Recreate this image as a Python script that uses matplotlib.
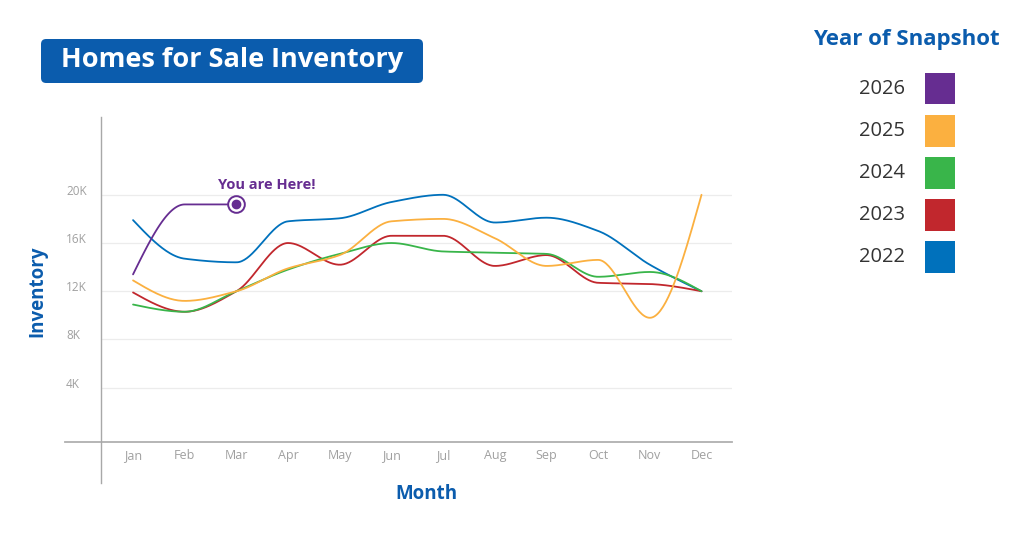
import numpy as np
import matplotlib
matplotlib.use("Agg")
import matplotlib.pyplot as plt
from matplotlib.patches import FancyBboxPatch, Rectangle
from matplotlib.lines import Line2D
from matplotlib import transforms as mtransforms

# ---- data ----
months = ['Jan', 'Feb', 'Mar', 'Apr', 'May', 'Jun',
          'Jul', 'Aug', 'Sep', 'Oct', 'Nov', 'Dec']
inv_2022 = [17900, 14700, 14400, 17800, 18050, 19400, 20000, 17700, 18100, 17000, 14200, 12000]
inv_2023 = [11900, 10300, 12000, 16000, 14200, 16600, 16600, 14100, 15000, 12700, 12600, 12000]
inv_2024 = [10900, 10300, 12000, 13800, 15100, 16000, 15300, 15200, 15100, 13200, 13600, 12000]
inv_2025 = [12900, 11200, 12000, 13900, 15000, 17800, 18000, 16400, 14100, 14600, 9800, 20000]
inv_2026 = [13400, 19200, 19200]
years = ['2026', '2025', '2024', '2023', '2022']
ytick_vals = [4000, 8000, 12000, 16000, 20000]
ytick_labels = ['4K', '8K', '12K', '16K', '20K']

colors = {'2026': '#662d91', '2025': '#fbb040', '2024': '#39b54a',
          '2023': '#c1272d', '2022': '#0071bc'}
series = {'2022': inv_2022, '2023': inv_2023, '2024': inv_2024,
          '2025': inv_2025, '2026': inv_2026}

BLUE = '#0b5cad'
W, H = 1024, 550

plt.rcParams['font.family'] = ['Open Sans', 'DejaVu Sans']


def px(x, y):
    """pixel position (top-left origin) -> figure fraction"""
    return x / W, 1 - y / H


def monotone(y, n=40):
    # monotone cubic hermite curve through equally spaced points
    y = np.asarray(y, float)
    d = np.diff(y)
    m = np.zeros_like(y)
    for i in range(1, len(y) - 1):
        if d[i - 1] * d[i] > 0:
            m[i] = 2.0 / (1.0 / d[i - 1] + 1.0 / d[i])
    m[0] = (3 * d[0] - m[1]) / 2 if len(y) > 2 else d[0]
    m[-1] = (3 * d[-1] - m[-2]) / 2 if len(y) > 2 else d[-1]
    xs, ys = [], []
    t = np.linspace(0, 1, n)
    for i in range(len(y) - 1):
        h00 = 2 * t**3 - 3 * t**2 + 1
        h10 = t**3 - 2 * t**2 + t
        h01 = -2 * t**3 + 3 * t**2
        h11 = t**3 - t**2
        xs.append(i + t)
        ys.append(h00 * y[i] + h10 * m[i] + h01 * y[i + 1] + h11 * m[i + 1])
    return np.concatenate(xs), np.concatenate(ys)


fig = plt.figure(figsize=(W / 100, H / 100), dpi=100)
ax = fig.add_axes([101 / W, 108 / H, 631 / W, 325 / H])
ax.set_xlim(-0.62, 11.59)
ax.set_ylim(-500, 26450)
for s in ax.spines.values():
    s.set_visible(False)

# gridlines
for v in ytick_vals:
    ax.axhline(v, color='#ececec', lw=0.9, zorder=0)

# lines
for yr in ['2022', '2023', '2024', '2025', '2026']:
    xs, ys = monotone(series[yr])
    ax.plot(xs, ys, color=colors[yr], lw=1.3, solid_capstyle='round', zorder=3)

# "you are here" marker on the last 2026 point
last = len(inv_2026) - 1
ax.plot(last, inv_2026[-1], 'o', ms=12, mfc='white', mec=colors['2026'], mew=1.4, zorder=4)
ax.plot(last, inv_2026[-1], 'o', ms=6, color=colors['2026'], zorder=5)
ax.annotate('You are Here!', (last, inv_2026[-1]), xytext=(22, 14),
            textcoords='offset points', ha='center', va='center',
            fontsize=10.5, fontweight='bold', color=colors['2026'])

# x ticks
ax.set_xticks(range(len(months)))
ax.set_xticklabels(months, fontsize=9, color='#a0a0a0')
ax.tick_params(axis='x', length=0, pad=5)
ax.set_yticks([])

# y tick labels, left aligned and sitting just above the gridlines
ytrans = mtransforms.offset_copy(ax.get_yaxis_transform(), fig=fig, x=0, y=3.5, units='dots')
for v, lab in zip(ytick_vals, ytick_labels):
    ax.text(-35 / 631, v, lab, transform=ytrans, ha='left', va='center',
            fontsize=8.5, color='#a0a0a0')

# axis lines (extend past the plot area like the reference)
fig.add_artist(Line2D([65 / W, 732 / W], [1 - 442 / H] * 2, color='#b0b0b0', lw=1.3))
fig.add_artist(Line2D([101 / W] * 2, [1 - 117 / H, 1 - 483 / H], color='#a8a8a8', lw=1.0))

# axis titles
fig.text(*px(37, 291), 'Inventory', rotation=90, ha='center', va='center',
         fontsize=13.5, fontweight='bold', color=BLUE)
fig.text(*px(426, 494), 'Month', ha='center', va='center',
         fontsize=13.5, fontweight='bold', color=BLUE)

# title box
x0, y0 = px(41, 83)
box = FancyBboxPatch((x0, y0), (423 - 41) / W, 44 / H,
                     boxstyle='round,pad=0,rounding_size=0.005',
                     mutation_aspect=W / H, transform=fig.transFigure,
                     facecolor=BLUE, edgecolor='none')
fig.add_artist(box)
fig.text(*px(232, 60), 'Homes for Sale Inventory', ha='center', va='center',
         fontsize=19.5, fontweight='bold', color='white')

# legend
fig.text(*px(906, 39), 'Year of Snapshot', ha='center', va='center',
         fontsize=16, fontweight='bold', color=BLUE)
for i, yr in enumerate(years):
    cy = 89 + 42 * i
    fig.text(*px(882, cy), yr, ha='center', va='center', fontsize=14.5, color='#333333')
    rx, ry = px(925, cy + 15.5)
    fig.add_artist(Rectangle((rx, ry), 30 / W, 31 / H, transform=fig.transFigure,
                             facecolor=colors[yr], edgecolor='none'))

fig.savefig('out.png', dpi=100)
